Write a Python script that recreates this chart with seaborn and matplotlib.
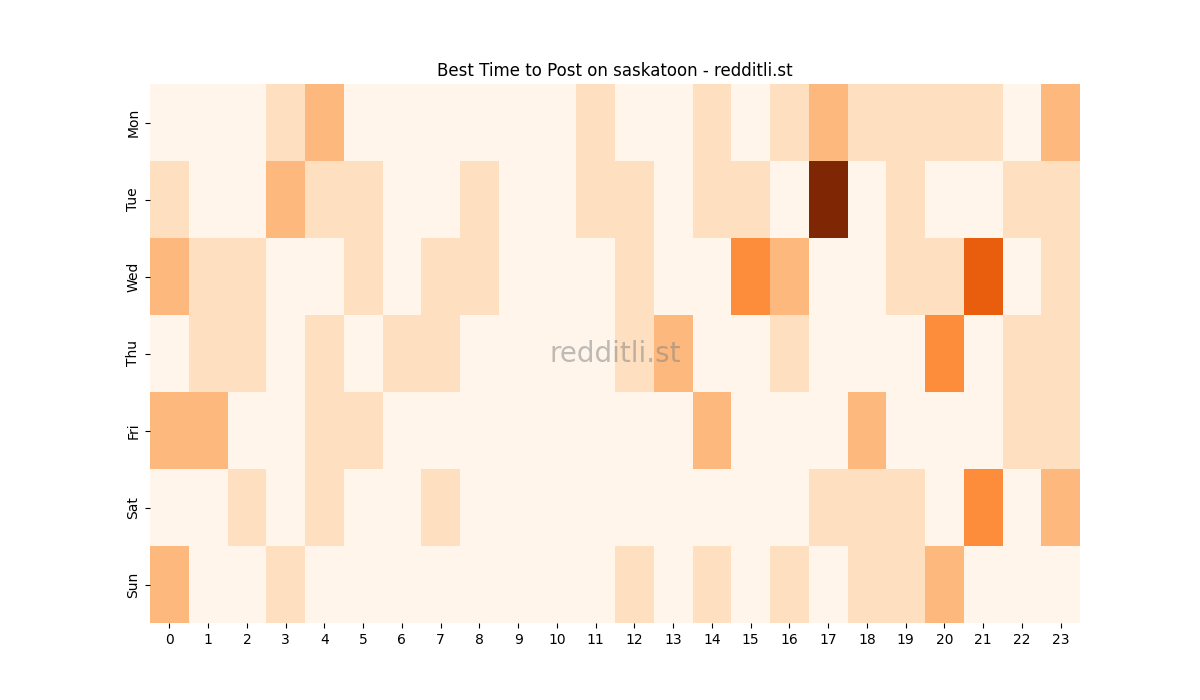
import matplotlib
matplotlib.use("Agg")
import matplotlib.pyplot as plt
import seaborn as sns
import pandas as pd

days = ["Mon", "Tue", "Wed", "Thu", "Fri", "Sat", "Sun"]
hours = list(range(24))
mon = [0,0,0,1,2,0,0,0,0,0,0,1,0,0,1,0,1,2,1,1,1,1,0,2]
tue = [1,0,0,2,1,1,0,0,1,0,0,1,1,0,1,1,0,6,0,1,0,0,1,1]
wed = [2,1,1,0,0,1,0,1,1,0,0,0,1,0,0,3,2,0,0,1,1,4,0,1]
thu = [0,1,1,0,1,0,1,1,0,0,0,0,1,2,0,0,1,0,0,0,3,0,1,1]
fri = [2,2,0,0,1,1,0,0,0,0,0,0,0,0,2,0,0,0,2,0,0,0,1,1]
sat = [0,0,1,0,1,0,0,1,0,0,0,0,0,0,0,0,0,1,1,1,0,3,0,2]
sun = [2,0,0,1,0,0,0,0,0,0,0,0,1,0,1,0,1,0,1,1,2,0,0,0]

df = pd.DataFrame([mon, tue, wed, thu, fri, sat, sun], index=days, columns=hours)

fig, ax = plt.subplots(figsize=(12, 7), dpi=100)
sns.heatmap(df, cmap="Oranges", cbar=False, ax=ax, vmin=0)
ax.set_title("Best Time to Post on saskatoon - redditli.st")
ax.set_xlabel("")
ax.set_ylabel("")
ax.text(0.5, 0.5, "redditli.st", transform=ax.transAxes, ha="center", va="center",
        fontsize=20, color="gray", alpha=0.5)
fig.savefig("out.png")
